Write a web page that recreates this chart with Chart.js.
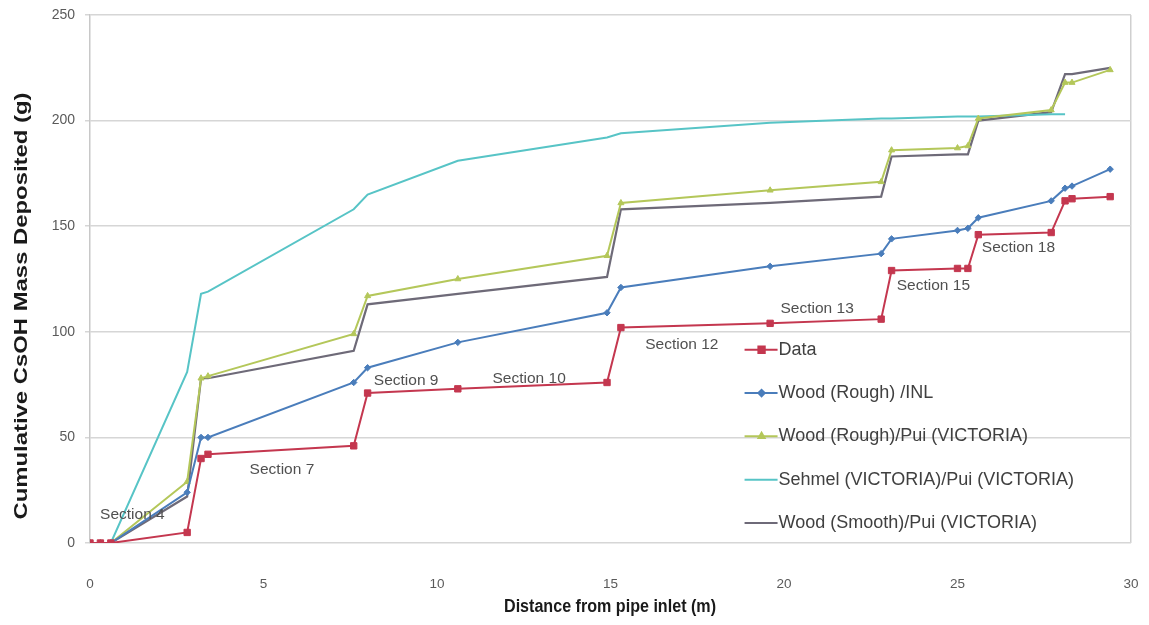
<!DOCTYPE html>
<html>
<head>
<meta charset="utf-8">
<script src="https://cdn.jsdelivr.net/npm/chart.js@4/dist/chart.umd.min.js"></script>
<style>
  html, body { margin: 0; padding: 0; background: #ffffff; }
  #wrap { width: 1149px; height: 625px; }
</style>
</head>
<body>
<div id="wrap"><canvas id="c" width="1149" height="625"></canvas></div>
<script>
// ---- data ----
const distance = [0, 0.3, 0.6, 2.8, 3.2, 3.4, 7.6, 8.0, 10.6, 14.9, 15.3, 19.6, 22.8, 23.1, 25.0, 25.3, 25.6, 27.7, 28.1, 28.3, 29.4];
const measured = [0, 0, 0, 5, 40, 42, 46, 71, 73, 76, 102, 104, 106, 129, 130, 130, 146, 147, 162, 163, 164];
const woodRoughINL = [0, 0, 0, 24, 50, 50, 76, 83, 95, 109, 121, 131, 137, 144, 148, 149, 154, 162, 168, 169, 177];
const woodRoughPui = [0, 0, 0, 29, 78, 79, 99, 117, 125, 136, 161, 167, 171, 186, 187, 188, 201, 205, 218, 218, 224];
const sehmelPui = [0, 0, 0, 81, 118, 119, 158, 165, 181, 192, 194, 199, 201, 201, 202, 202, 202, 203, 203, null, null];
const woodSmoothPui = [0, 0, 0, 22, 78, 78, 91, 113, 118, 126, 158, 161, 164, 183, 184, 184, 200, 204, 222, 222, 225];

const seriesNames = ["Data", "Wood (Rough) /INL", "Wood (Rough)/Pui (VICTORIA)", "Sehmel (VICTORIA)/Pui (VICTORIA)", "Wood (Smooth)/Pui (VICTORIA)"];
const xTickValues = [0, 5, 10, 15, 20, 25, 30];
const yTickValues = [0, 50, 100, 150, 200, 250];

const sectionLabels = ["Section 4", "Section 7", "Section 9", "Section 10", "Section 12", "Section 13", "Section 15", "Section 18"];
const sectionX = [0.29, 4.6, 8.18, 11.6, 16.0, 19.9, 23.25, 25.7];
const sectionY = [13.3, 34.6, 77, 77.6, 94, 110.8, 122, 140];

const xTitle = "Distance from pipe inlet (m)";
const yTitle = "Cumulative CsOH Mass Deposited (g)";

// ---- build datasets ----
function pts(ys) {
  return distance.map((x, i) => ({ x: x, y: ys[i] }));
}
const styles = [
  { color: "#c4374f", pointStyle: "rect", radius: 4.5, width: 2 },
  { color: "#4a7dbb", pointStyle: "rectRot", radius: 3.2, width: 2 },
  { color: "#b4c75a", pointStyle: "triangle", radius: 3.5, width: 2 },
  { color: "#57c4c6", pointStyle: "line", radius: 0, width: 2 },
  { color: "#6e6a78", pointStyle: "line", radius: 0, width: 2.2 }
];
const allSeries = [measured, woodRoughINL, woodRoughPui, sehmelPui, woodSmoothPui];
const datasets = allSeries.map((ys, i) => ({
  label: seriesNames[i],
  data: pts(ys),
  borderColor: styles[i].color,
  backgroundColor: styles[i].color,
  borderWidth: styles[i].width,
  pointStyle: styles[i].pointStyle,
  pointRadius: styles[i].radius,
  pointHoverRadius: styles[i].radius,
  pointBorderWidth: 1,
  showLine: true,
  tension: 0,
  spanGaps: false
}));

// ---- custom drawing: section labels, legend, axis titles ----
const overlay = {
  id: "overlay",
  afterDatasetsDraw(chart) {
    const ctx = chart.ctx;
    const xs = chart.scales.x, ys = chart.scales.y;
    ctx.save();
    // section labels
    ctx.font = "15.5px 'Liberation Sans', Arial, sans-serif";
    ctx.fillStyle = "#505050";
    ctx.textAlign = "left";
    ctx.textBaseline = "middle";
    sectionLabels.forEach((t, i) => {
      ctx.fillText(t, xs.getPixelForValue(sectionX[i]), ys.getPixelForValue(sectionY[i]));
    });
    // legend (inside plot area)
    const lx = xs.getPixelForValue(18.95);
    const rowTop = ys.getPixelForValue(91.5);
    const rowGap = 43.3;
    ctx.font = "18px 'Liberation Sans', Arial, sans-serif";
    chart.data.datasets.forEach((ds, i) => {
      const y = rowTop + i * rowGap;
      ctx.strokeStyle = ds.borderColor;
      ctx.lineWidth = 2;
      ctx.beginPath();
      ctx.moveTo(lx - 3, y);
      ctx.lineTo(lx + 30, y);
      ctx.stroke();
      if (ds.pointRadius > 0) {
        ctx.fillStyle = ds.backgroundColor;
        Chart.helpers.drawPoint(ctx, {
          pointStyle: ds.pointStyle, radius: ds.pointRadius, borderWidth: 1, rotation: 0
        }, lx + 14, y);
        ctx.fill();
      }
      ctx.fillStyle = "#404040";
      ctx.textAlign = "left";
      ctx.fillText(ds.label, lx + 31, y);
    });
    // axis titles (condensed to match the reference)
    ctx.fillStyle = "#1a1a1a";
    ctx.font = "bold 18px 'Liberation Sans', Arial, sans-serif";
    ctx.textAlign = "center";
    ctx.textBaseline = "middle";
    let w = ctx.measureText(xTitle).width;
    ctx.save();
    ctx.translate(610, 607);
    ctx.scale(212 / w, 1);
    ctx.fillText(xTitle, 0, 0);
    ctx.restore();
    ctx.font = "bold 19px 'Liberation Sans', Arial, sans-serif";
    w = ctx.measureText(yTitle).width;
    ctx.save();
    ctx.translate(22, 306);
    ctx.rotate(-Math.PI / 2);
    ctx.scale(427 / w, 1);
    ctx.fillText(yTitle, 0, 0);
    ctx.restore();
    ctx.restore();
  }
};

new Chart(document.getElementById("c"), {
  type: "scatter",
  data: { datasets: datasets },
  options: {
    responsive: false,
    animation: false,
    layout: { padding: { left: 0, top: 15, right: 18, bottom: 0 } },
    plugins: { legend: { display: false }, tooltip: { enabled: false } },
    scales: {
      x: {
        type: "linear",
        min: 0, max: 30,
        afterFit(s) { s.height = 82; s.paddingLeft = 0; s.paddingRight = 0; },
        afterBuildTicks(s) { s.ticks = xTickValues.map(v => ({ value: v })); },
        ticks: { padding: 33, color: "#5a5a5a", font: { size: 13.5, family: "'Liberation Sans', Arial, sans-serif" } },
        grid: {
          drawTicks: false,
          color: (c) => (c.tick && c.tick.value === 30 ? "#cfcfcf" : "rgba(0,0,0,0)"),
          lineWidth: 1.5
        },
        border: { display: false }
      },
      y: {
        type: "linear",
        min: 0, max: 250,
        afterFit(s) { s.width = 90; s.paddingTop = 0; s.paddingBottom = 0; },
        afterBuildTicks(s) { s.ticks = yTickValues.map(v => ({ value: v })); },
        ticks: { padding: 10, color: "#5a5a5a", font: { size: 14, family: "'Liberation Sans', Arial, sans-serif" } },
        grid: { color: "#d6d6d6", lineWidth: 1.5, tickLength: 5, drawTicks: true, tickColor: "#d6d6d6" },
        border: { display: true, color: "#c8c8c8", width: 1.5 }
      }
    }
  },
  plugins: [overlay]
});
</script>
</body>
</html>
